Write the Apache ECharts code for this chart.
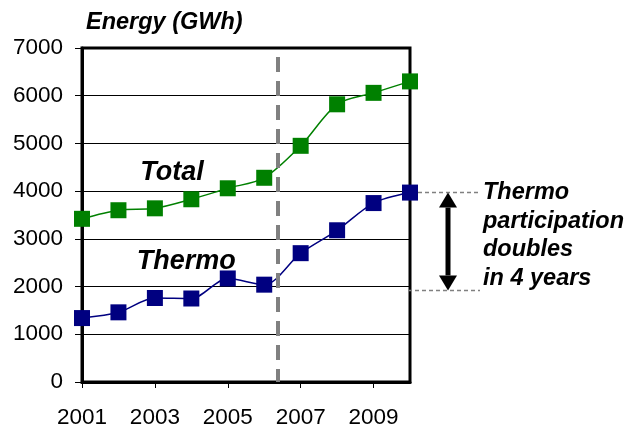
<!DOCTYPE html>
<html><head><meta charset="utf-8">
<script src="https://cdn.jsdelivr.net/npm/echarts@6/dist/echarts.min.js"></script>
<style>html,body{margin:0;padding:0;background:#fff}#c{width:640px;height:429px}</style>
</head><body><div id="c"></div>
<script>
const years = [2001,2002,2003,2004,2005,2006,2007,2008,2009,2010];
const total = [3420,3600,3640,3830,4060,4280,4950,5820,6060,6300];
const thermo = [1340,1460,1760,1750,2170,2040,2700,3180,3750,3970];
const xLabelYears = [2001,2003,2005,2007,2009];
const yTicks = [0,1000,2000,3000,4000,5000,6000,7000];
const dividerYear = 2006.36;
const doubleFrom = 1920;
const doubleTo = 3970;
const FONT = 'Liberation Sans, Arial, sans-serif';

const chart = echarts.init(document.getElementById('c'));
chart.setOption({
  animation:false,
  backgroundColor:'#fff',
  title:{text:'Energy (GWh)', left:81, top:6,
    textStyle:{fontFamily:FONT,fontSize:23.5,fontWeight:'bold',fontStyle:'italic',color:'#000'}},
  grid:{left:82,right:230,top:48,bottom:47,show:true,borderColor:'#000',borderWidth:3,backgroundColor:'transparent'},
  xAxis:{type:'value',min:years[0],max:years[years.length-1],
    axisLine:{lineStyle:{color:'#000',width:3}},
    axisTick:{customValues:xLabelYears,length:6,lineStyle:{color:'#000',width:1}},
    axisLabel:{customValues:xLabelYears,fontFamily:FONT,fontSize:22.5,color:'#000',margin:24,formatter:v=>String(v)},
    splitLine:{show:false}},
  yAxis:{type:'value',min:yTicks[0],max:yTicks[yTicks.length-1],interval:1000,
    axisLine:{show:true,lineStyle:{color:'#000',width:3}},
    axisTick:{show:true,length:7,lineStyle:{color:'#000',width:1}},
    axisLabel:{fontFamily:FONT,fontSize:22.5,color:'#000',margin:19,formatter:v=>String(v)},
    splitLine:{lineStyle:{color:'#000',width:1}}},
  series:[
    {type:'line',name:'Total',data:years.map((y,i)=>[y,total[i]]),smooth:0.3,
     symbol:'rect',symbolSize:16,itemStyle:{color:'#008000'},lineStyle:{color:'#008000',width:1.5},z:3,
     markLine:{silent:true,symbol:'none',label:{show:false},
       lineStyle:{color:'#808080',type:[15,9],dashOffset:2,width:4},
       data:[{xAxis:dividerYear}]}},
    {type:'line',name:'Thermo',data:years.map((y,i)=>[y,thermo[i]]),smooth:0.3,
     symbol:'rect',symbolSize:16,itemStyle:{color:'#000080'},lineStyle:{color:'#000080',width:1.5},z:3}
  ]
});

function drawAnnotations(){
  const pTop = chart.convertToPixel({gridIndex:0},[years[years.length-1],doubleTo]);
  const pBot = chart.convertToPixel({gridIndex:0},[years[years.length-1],doubleFrom]);
  const pTotalLbl = chart.convertToPixel({gridIndex:0},[2002.6,4630]);
  const pThermoLbl = chart.convertToPixel({gridIndex:0},[2002.5,2760]);
  const ax = pTop[0]+38;
  const xEnd = pTop[0]+70;
  const head = 15, hw = 9;
  const txtStyle = {fontFamily:FONT,fontSize:23.5,fontWeight:'bold',fontStyle:'italic',fill:'#000'};
  chart.setOption({graphic:[
    {type:'text',left:pTotalLbl[0],top:pTotalLbl[1]-2,style:Object.assign({text:'Total'},txtStyle,{fontSize:27})},
    {type:'text',left:pThermoLbl[0],top:pThermoLbl[1]-2,style:Object.assign({text:'Thermo'},txtStyle,{fontSize:27})},
    {type:'line',shape:{x1:pTop[0]+8,y1:pTop[1],x2:xEnd,y2:pTop[1]},style:{stroke:'#808080',lineWidth:1.5,lineDash:[4,3]}},
    {type:'line',shape:{x1:pBot[0]-2,y1:pBot[1],x2:xEnd,y2:pBot[1]},style:{stroke:'#808080',lineWidth:1.5,lineDash:[4,3]}},
    {type:'line',shape:{x1:ax,y1:pTop[1]+head,x2:ax,y2:pBot[1]-head},style:{stroke:'#000',lineWidth:5}},
    {type:'polygon',shape:{points:[[ax,pTop[1]],[ax-hw,pTop[1]+head],[ax+hw,pTop[1]+head]]},style:{fill:'#000'}},
    {type:'polygon',shape:{points:[[ax,pBot[1]],[ax-hw,pBot[1]-head],[ax+hw,pBot[1]-head]]},style:{fill:'#000'}},
    {type:'text',left:xEnd+3,top:pTop[1]-14,style:Object.assign({text:'Thermo\nparticipation\ndoubles\nin 4 years',lineHeight:28.5},txtStyle)}
  ]});
}
drawAnnotations();
</script></body></html>
